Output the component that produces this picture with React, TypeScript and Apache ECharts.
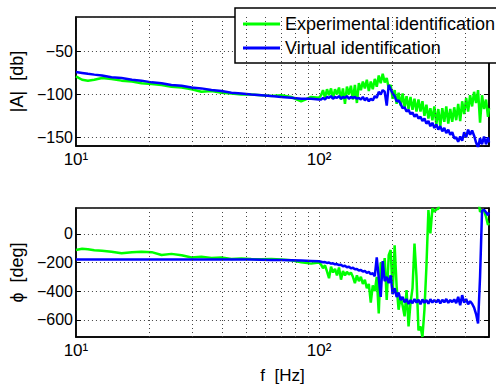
import React, { useEffect, useRef } from 'react';
import * as echarts from 'echarts';

const FONT = '"Liberation Sans", Arial, Helvetica, "DejaVu Sans", sans-serif';

const LEGEND_NAMES = ['Experimental identification', 'Virtual identification'];
const GREEN = '#00ff00';
const BLUE = '#0000ff';

// frequencies [Hz]
const F = [10, 10.6, 11.2, 11.9, 12.8, 14.0, 15.4, 17.0, 18.6, 20.5, 22.5, 24.7, 27.2, 29.9, 32.8, 36.1, 39.7, 43.6, 47.9, 52.6, 57.9, 63.6, 69.9, 76.8, 84.4, 92.7, 100,
  101.9, 103.8, 105.8, 107.8, 109.9, 112.0, 114.1, 116.3, 118.5, 120.8,
  123.1, 125.4, 127.8, 130.2, 132.7, 135.2, 137.8, 140.4, 143.1, 145.8,
  148.6, 151.4, 154.3, 157.2, 160.2, 163.2, 166.3, 169.5, 172.7, 176.0,
  179.3, 182.7, 186.2, 189.8, 193.4, 197.0, 200.8, 204.6, 208.5, 212.4,
  216.5, 220.6, 224.8, 229.0, 233.4, 237.8, 242.3, 246.9, 251.6, 256.4,
  261.3, 266.2, 271.3, 276.4, 281.7, 287.0, 292.5, 298.0, 303.7, 309.4,
  315.3, 321.3, 327.4, 333.6, 340.0, 346.4, 353.0, 359.7, 366.5, 373.5,
  380.6, 387.8, 395.2, 402.7, 410.3, 418.1, 426.1, 434.2, 442.4, 450.8,
  459.4, 468.1, 477.0, 486.1, 495.3, 500];

// |A| [db] experimental
const MAG_EXP = [-79, -83, -84, -83, -81, -82, -84, -85, -87, -88, -89, -91, -92, -94, -97, -96, -98, -99, -100, -100, -101, -102, -101, -103, -108, -103, -104,
  -101, -95, -104, -94, -101, -93, -105, -94, -100, -92,
  -106, -93, -111, -91, -100, -90, -106, -89, -110, -87,
  -95, -85, -93, -83, -96, -85, -94, -82, -91, -78,
  -87, -76, -86, -81, -93, -89, -105, -95, -111, -98,
  -113, -99, -115, -102, -117, -103, -118, -105, -120, -106,
  -120, -108, -125, -112, -128, -116, -130, -114, -135, -117,
  -137, -116, -132, -114, -134, -117, -132, -115, -130, -111,
  -131, -108, -123, -104, -120, -101, -114, -97, -110, -95,
  -133, -101, -117, -106, -126, -116];

// |A| [db] virtual
const MAG_VIR = [-74, -75, -76, -77, -78, -80, -81, -83, -84, -86, -87, -89, -90, -92, -93, -95, -96, -98, -99, -100, -101, -102, -103, -104, -105, -105, -106,
  -106, -104, -106, -103, -104, -102, -105, -103, -104, -102,
  -105, -103, -104, -102, -105, -103, -104, -103, -105, -104,
  -106, -103, -107, -104, -108, -105, -107, -102, -104, -97,
  -100, -95, -97, -113, -89, -94, -99, -102, -108, -107,
  -111, -116, -115, -120, -118, -123, -121, -126, -123, -128,
  -126, -131, -128, -134, -131, -137, -133, -139, -135, -141,
  -137, -143, -139, -145, -141, -147, -144, -151, -150, -155,
  -149, -154, -144, -150, -141, -147, -142, -148, -156, -162,
  -151, -158, -149, -158, -150, -156];

// phase [deg] experimental
const PH_EXP = [-113, -105, -108, -114, -118, -126, -136, -128, -125, -128, -148, -140, -150, -165, -160, -168, -165, -176, -172, -175, -178, -176, -180, -185, -198, -208, -200,
  -215, -240, -220, -262, -310, -230, -270, -245, -290, -235,
  -320, -260, -290, -265, -285, -270, -300, -345, -290, -330,
  -300, -350, -320, -380, -350, -480, -360, -400, -300, -556,
  -200, -290, -170, -462, -150, -113, -420, -80, -370, -530,
  -440, -500, -576, -392, -646, -480, -380, -68, -300, -674,
  -646, -720, -530, -231, 166, 3, 177, 154, 170, 175,
  250, 250, 250, 250, 250, 250, 250, 250, 250, 250,
  250, 250, 250, 250, 250, 250, 250, 250, 250, 250,
  154, 165, 160, 120, 61, 75];

// phase [deg] virtual
const PH_VIR = [-180, -180, -180, -180, -180, -180, -180, -180, -180, -180, -180, -180, -180, -180, -180, -180, -180, -180, -180, -180, -181, -182, -183, -185, -187, -189, -192,
  -195, -199, -197, -203, -201, -208, -206, -213, -211, -218,
  -216, -226, -223, -233, -230, -241, -237, -248, -245, -256,
  -252, -263, -259, -272, -266, -282, -275, -296, -165, -310,
  -440, -190, -330, -300, -345, -290, -420, -380, -440, -410,
  -462, -440, -478, -455, -490, -462, -485, -455, -480, -460,
  -492, -458, -482, -462, -488, -456, -480, -462, -478, -458,
  -486, -460, -478, -455, -482, -462, -476, -458, -484, -440,
  -498, -428, -480, -455, -492, -470, -488, -515, -560, -625,
  -300, 160, 168, 150, 130, 150];

const MINOR_GRID = [20, 30, 40, 50, 60, 70, 80, 90, 200, 300, 400];
const X_LABELS: Record<number, string> = { 10: '10\u00b9', 100: '10\u00b2' };

const MAG_RANGE = [-160, -10];
const PH_RANGE = [-720, 180];

const dotted = { type: [1, 3] as any, color: '#444', width: 1 };
const minus = (v: number) => String(v).replace('-', '\u2212');

function xAxis(i: number) {
  return {
    type: 'log', logBase: 10, gridIndex: i, min: 10, max: 500,
    axisLine: { show: true, onZero: false, lineStyle: { color: '#000', width: 1.5 } },
    axisTick: { show: false },
    splitLine: { show: true, lineStyle: dotted },
    axisLabel: {
      margin: 5, fontSize: 17, fontFamily: FONT, color: '#000',
      formatter: (v: number) => X_LABELS[Math.round(v)] || '',
    },
    name: i === 1 ? 'f  [Hz]' : '',
    nameLocation: 'middle',
    nameGap: 30,
    nameTextStyle: { fontSize: 17, fontFamily: FONT, color: '#000' },
  };
}

function yLeft(i: number, range: number[], split: number, name: string) {
  return {
    type: 'value', gridIndex: i, min: range[0], max: range[1], splitNumber: split,
    position: 'left',
    axisLine: { show: true, onZero: false, lineStyle: { color: '#000', width: 1.5 } },
    axisTick: { show: true, inside: true, length: 5, lineStyle: { color: '#000' } },
    splitLine: { show: true, lineStyle: dotted },
    axisLabel: { showMinLabel: false, showMaxLabel: false, margin: 3, fontSize: 16, fontFamily: FONT, color: '#000', formatter: minus },
    name, nameLocation: 'middle', nameGap: 45,
    nameTextStyle: { fontSize: 18, fontFamily: FONT, color: '#000' },
  };
}

function yRight(i: number, range: number[], split: number) {
  return {
    type: 'value', gridIndex: i, min: range[0], max: range[1], splitNumber: split,
    position: 'right',
    axisLine: { show: true, onZero: false, lineStyle: { color: '#000', width: 1.5 } },
    axisTick: { show: true, inside: true, length: 5, lineStyle: { color: '#000' } },
    splitLine: { show: false },
    axisLabel: { show: false },
  };
}

function line(name: string, color: string, xi: number, yi: number, ys: number[], z: number) {
  return {
    name, type: 'line', xAxisIndex: xi, yAxisIndex: yi,
    data: F.map((f, k) => [f, ys[k]]),
    showSymbol: false, symbol: 'none', color, z,
    lineStyle: { width: 2.5, color },
    clip: true,
  };
}

function gridMarks(i: number) {
  return {
    type: 'line', xAxisIndex: i, yAxisIndex: i, data: [], z: 1, silent: true,
    markLine: {
      silent: true, symbol: 'none', label: { show: false },
      lineStyle: dotted,
      data: MINOR_GRID.map((v) => ({ xAxis: v })),
    },
  };
}

export default function App() {
  const ref = useRef<HTMLDivElement>(null);
  useEffect(() => {
    const chart = echarts.init(ref.current!, null, { renderer: 'svg' });
    chart.setOption({
      animation: false,
      backgroundColor: '#fff',
      textStyle: { fontFamily: FONT },
      grid: [
        { left: 74, top: 17, width: 415, height: 129, show: true, borderColor: '#000', borderWidth: 1.5 },
        { left: 74, top: 208, width: 415, height: 129, show: true, borderColor: '#000', borderWidth: 1.5 },
      ],
      legend: {
        data: LEGEND_NAMES, orient: 'vertical', left: 235, top: 8,
        backgroundColor: '#fff', borderColor: '#000', borderWidth: 1.5, borderRadius: 0,
        padding: [6, 2, 5, 8], itemWidth: 37, itemHeight: 3, itemGap: 4, icon: 'rect',
        selectedMode: false,
        textStyle: { fontSize: 18, fontFamily: FONT, color: '#000', lineHeight: 20 },
      },
      xAxis: [xAxis(0), xAxis(1)],
      yAxis: [
        yLeft(0, MAG_RANGE, 3, '|A|  [db]'),
        yLeft(1, PH_RANGE, 4, '\u03d5  [deg]'),
        yRight(0, MAG_RANGE, 3),
        yRight(1, PH_RANGE, 4),
      ],
      series: [
        gridMarks(0),
        gridMarks(1),
        line(LEGEND_NAMES[0], GREEN, 0, 0, MAG_EXP, 3),
        line(LEGEND_NAMES[1], BLUE, 0, 0, MAG_VIR, 4),
        line(LEGEND_NAMES[0], GREEN, 1, 1, PH_EXP, 3),
        line(LEGEND_NAMES[1], BLUE, 1, 1, PH_VIR, 4),
      ],
    });
    return () => chart.dispose();
  }, []);
  return <div ref={ref} style={{ position: 'fixed', left: 0, top: 0, width: 496, height: 385 }} />;
}
